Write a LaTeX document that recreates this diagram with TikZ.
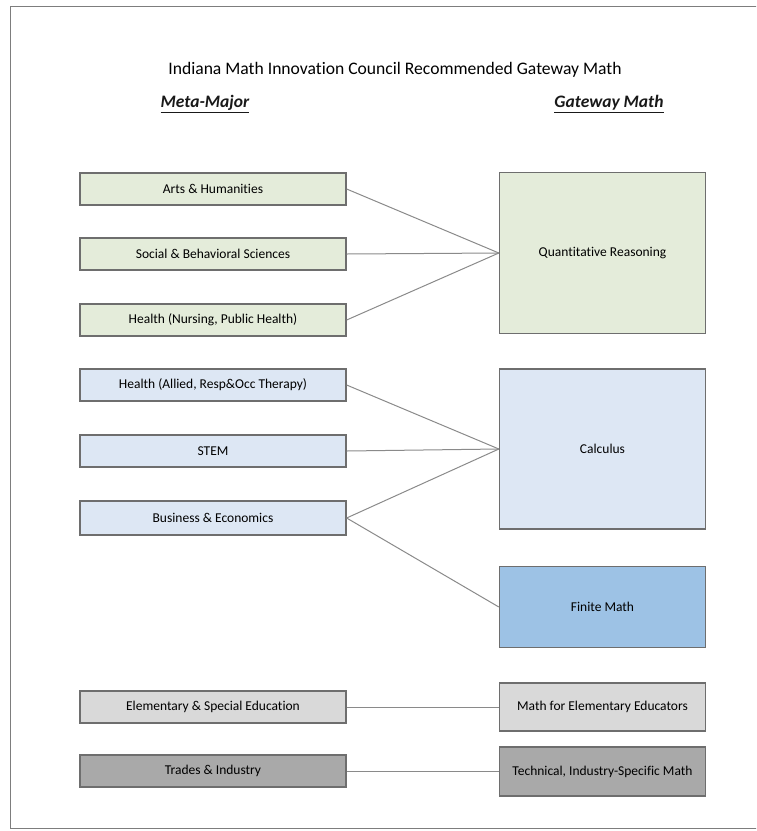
\documentclass[tikz,border=0pt]{standalone}
\usepackage{fontspec}
\setmainfont{Carlito}[Ligatures=NoCommon]
\begin{document}
\begin{tikzpicture}[x=1pt,y=-1pt,
  box/.style={draw=boxline, line width=1.3pt, minimum height=32pt, inner sep=0pt,
    font=\fontsize{13.5}{15}\selectfont, text=black},
  metabox/.style={box, minimum width=266pt},
  gatebox/.style={box, minimum width=206pt},
  link/.style={draw=linkgray, line width=1pt},
  head/.style={font=\fontsize{17.5}{20}\selectfont\bfseries\itshape, text=black!90}]
\definecolor{boxline}{HTML}{6E6E6E}
\definecolor{linkgray}{HTML}{8A8A8A}
\definecolor{greenfill}{HTML}{E4ECDA}
\definecolor{bluefill}{HTML}{DDE7F4}
\definecolor{finitefill}{HTML}{9DC2E5}
\definecolor{lightgrayfill}{HTML}{D9D9D9}
\definecolor{darkgrayfill}{HTML}{A9A9A9}

\useasboundingbox (0,0) rectangle (756,831);
\begin{scope}
  \clip (0,0) rectangle (756,831);
  \draw[draw=boxline!90, line width=1.5pt] (10.5,6.5) rectangle (780,828.5);
\end{scope}

% title and column headings
\node[font=\fontsize{17.6}{20}\selectfont, text=black] (title) at (395,70) {Indiana Math Innovation Council Recommended Gateway Math};
\node[head] (hmeta) at (205,104) {\underline{Meta-Major}};
\node[head] (hgate) at (609,104) {\underline{Gateway Math}};

% meta-majors
\node[metabox, fill=greenfill] (arts) at (213,189) {Arts \& Humanities};
\node[metabox, fill=greenfill] (social) at (213,254) {Social \& Behavioral Sciences};
\node[metabox, fill=greenfill] (nursing) at (213,320) {Health (Nursing, Public Health)};
\node[metabox, fill=bluefill] (allied) at (213,385) {Health (Allied, Resp\&Occ Therapy)};
\node[metabox, fill=bluefill] (stem) at (213,451) {STEM};
\node[metabox, fill=bluefill, minimum height=34pt] (business) at (213,518) {Business \& Economics};
\node[metabox, fill=lightgrayfill] (elem) at (213,707) {Elementary \& Special Education};
\node[metabox, fill=darkgrayfill] (trades) at (213,771) {Trades \& Industry};

% gateway courses
\node[gatebox, fill=greenfill, minimum height=161pt] (qr) at (602.5,253) {Quantitative Reasoning};
\node[gatebox, fill=bluefill, minimum height=160pt] (calc) at (602.5,449) {Calculus};
\node[gatebox, fill=finitefill, minimum height=81pt] (finite) at (602.5,607) {Finite Math};
\node[gatebox, fill=lightgrayfill, minimum height=48pt] (mathelem) at (602.5,707) {Math for Elementary Educators};
\node[gatebox, fill=darkgrayfill, minimum height=49pt] (tech) at (602.5,771.5) {Technical, Industry-Specific Math};

% connectors
\draw[link] (arts.east) -- (qr.west);
\draw[link] (social.east) -- (qr.west);
\draw[link] (nursing.east) -- (qr.west);
\draw[link] (allied.east) -- (calc.west);
\draw[link] (stem.east) -- (calc.west);
\draw[link] (business.east) -- (calc.west);
\draw[link] (business.east) -- (finite.west);
\draw[link] (elem.east) -- (mathelem.west);
\draw[link] (trades.east) -- (tech.west |- trades.east);
\end{tikzpicture}
\end{document}
